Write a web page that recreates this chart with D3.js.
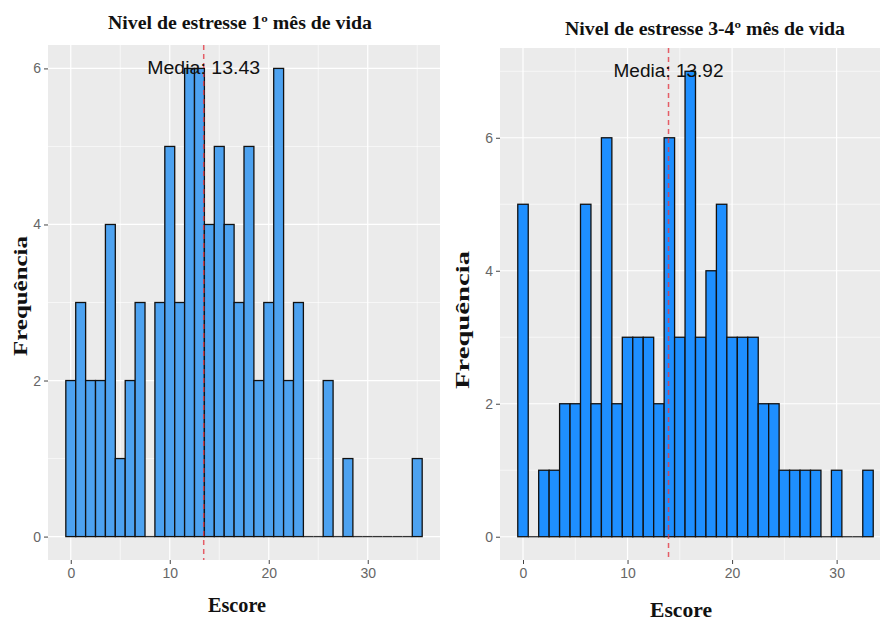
<!DOCTYPE html>
<html>
<head>
<meta charset="utf-8">
<script src="https://cdn.jsdelivr.net/npm/d3@7"></script>
<style>
  body { margin: 0; background: #fff; }
  svg { display: block; }
</style>
</head>
<body>
<svg id="chart" width="880" height="620"></svg>
<script>
// ---- Data ----
const binsLeft = d3.range(0, 36);        // bin centres, width 1
const countsLeft = [2,3,2,2,4,1,2,3,0,3,5,3,6,6,4,5,4,3,5,2,3,6,2,3,0,0,2,0,1,0,0,0,0,0,0,1];
const meanLeft = 13.43;
const titleLeft = "Nivel de estresse 1º mês de vida";

const binsRight = d3.range(0, 34);
const countsRight = [5,0,1,1,2,2,5,2,6,2,3,3,3,2,6,3,7,3,4,5,3,3,3,2,2,1,1,1,1,0,1,0,0,1];
const meanRight = 13.92;
const titleRight = "Nivel de estresse 3-4º mês de vida";

const xTicks = [0, 10, 20, 30];
const xMinorLeft = [5, 15, 25, 35];
const xMinorRight = [5, 15, 25];
const yTicksLeft = [0, 2, 4, 6];
const yMinorLeft = [1, 3, 5];
const yTicksRight = [0, 2, 4, 6];
const yMinorRight = [1, 3, 5, 7];

const xLabel = "Escore";
const yLabel = "Frequência";

const svg = d3.select("#chart");
const SERIF = "Liberation Serif, Times New Roman, serif";
const SANS = "Liberation Sans, Arial, sans-serif";

function panel(cfg) {
  const g = svg.append("g");
  const x = d3.scaleLinear().domain(cfg.xDomain).range(cfg.xRange);
  const y = d3.scaleLinear().domain(cfg.yDomain).range(cfg.yRange);
  const [x0, x1] = cfg.xRange;
  const [y0, y1] = cfg.yRange; // y0 bottom, y1 top

  const clipId = "clip" + cfg.id;
  svg.append("clipPath").attr("id", clipId)
    .append("rect").attr("x", x0).attr("y", y1).attr("width", x1 - x0).attr("height", y0 - y1);

  const pg = g.append("g").attr("clip-path", `url(#${clipId})`);
  pg.append("rect").attr("x", x0).attr("y", y1).attr("width", x1 - x0).attr("height", y0 - y1)
    .attr("fill", "#EBEBEB");

  // minor grid
  pg.selectAll(".gxm").data(cfg.xMinor).enter().append("line")
    .attr("x1", d => x(d)).attr("x2", d => x(d)).attr("y1", y1).attr("y2", y0)
    .attr("stroke", "#fff").attr("stroke-width", 0.6);
  pg.selectAll(".gym").data(cfg.yMinor).enter().append("line")
    .attr("x1", x0).attr("x2", x1).attr("y1", d => y(d)).attr("y2", d => y(d))
    .attr("stroke", "#fff").attr("stroke-width", 0.6);
  // major grid
  pg.selectAll(".gx").data(cfg.xTicks).enter().append("line")
    .attr("x1", d => x(d)).attr("x2", d => x(d)).attr("y1", y1).attr("y2", y0)
    .attr("stroke", "#fff").attr("stroke-width", 1.2);
  pg.selectAll(".gy").data(cfg.yTicks).enter().append("line")
    .attr("x1", x0).attr("x2", x1).attr("y1", d => y(d)).attr("y2", d => y(d))
    .attr("stroke", "#fff").attr("stroke-width", 1.2);

  const data = cfg.bins.map((b, i) => ({ b, c: cfg.counts[i] }));
  // zero-height bins: outline at baseline
  pg.selectAll(".zero").data(data.filter(d => d.c === 0)).enter().append("line")
    .attr("x1", d => x(d.b - 0.5)).attr("x2", d => x(d.b + 0.5))
    .attr("y1", y(0)).attr("y2", y(0))
    .attr("stroke", "#333").attr("stroke-width", 1.3);
  pg.selectAll(".bar").data(data.filter(d => d.c > 0)).enter().append("rect")
    .attr("x", d => x(d.b - 0.5)).attr("width", d => x(d.b + 0.5) - x(d.b - 0.5))
    .attr("y", d => y(d.c)).attr("height", d => y(0) - y(d.c))
    .attr("fill", cfg.fill).attr("stroke", "#111").attr("stroke-width", 1.3);

  // mean line
  pg.append("line")
    .attr("x1", x(cfg.mean)).attr("x2", x(cfg.mean)).attr("y1", y1).attr("y2", y0)
    .attr("stroke", "#E43A45").attr("stroke-opacity", 0.8)
    .attr("stroke-width", 1.5).attr("stroke-dasharray", "5,4");

  // mean label
  pg.append("text")
    .attr("x", x(cfg.mean)).attr("y", y(d3.max(cfg.counts)))
    .attr("text-anchor", "middle").attr("dominant-baseline", "central")
    .attr("font-family", SANS).attr("font-size", 18)
    .attr("textLength", cfg.meanLen).attr("lengthAdjust", "spacingAndGlyphs")
    .attr("fill", "#111")
    .text("Media: " + cfg.mean.toFixed(2));

  // axes
  const xAxis = d3.axisBottom(x).tickValues(cfg.xTicks).tickSize(4).tickPadding(4).tickFormat(d3.format("d"));
  const ax = g.append("g").attr("transform", `translate(0,${y0})`).call(xAxis);
  const yAxis = d3.axisLeft(y).tickValues(cfg.yTicks).tickSize(4).tickPadding(3).tickFormat(d3.format("d"));
  const ay = g.append("g").attr("transform", `translate(${x0},0)`).call(yAxis);
  [ax, ay].forEach(a => {
    a.select(".domain").remove();
    a.selectAll(".tick line").attr("stroke", "#444").attr("stroke-width", 1);
    a.selectAll(".tick text").attr("fill", "#666")
      .attr("font-family", SANS).attr("font-size", 14);
  });

  // titles
  g.append("text").attr("x", cfg.titleX).attr("y", cfg.titleY)
    .attr("text-anchor", "middle").attr("font-family", SERIF)
    .attr("font-weight", "bold").attr("font-size", 18).attr("fill", "#111")
    .attr("textLength", cfg.titleLen).attr("lengthAdjust", "spacingAndGlyphs")
    .text(cfg.title);
  g.append("text").attr("x", cfg.xLabX).attr("y", cfg.xLabY)
    .attr("text-anchor", "middle").attr("font-family", SERIF)
    .attr("font-weight", "bold").attr("font-size", 20).attr("fill", "#111")
    .attr("textLength", cfg.xLabLen).attr("lengthAdjust", "spacingAndGlyphs")
    .text(xLabel);
  g.append("text").attr("transform", `translate(${cfg.yLabX},${cfg.yLabY}) rotate(-90)`)
    .attr("text-anchor", "middle").attr("font-family", SERIF)
    .attr("font-weight", "bold").attr("font-size", 18).attr("fill", "#111")
    .attr("textLength", cfg.yLabLen).attr("lengthAdjust", "spacingAndGlyphs")
    .text(yLabel);
}

panel({
  id: "L", bins: binsLeft, counts: countsLeft, mean: meanLeft, title: titleLeft,
  xDomain: [-2.3, 37.3], xRange: [48, 440],
  yDomain: [-0.3, 6.3], yRange: [560, 45],
  xTicks: xTicks, xMinor: xMinorLeft, yTicks: yTicksLeft, yMinor: yMinorLeft,
  fill: "#4DA2F0",
  titleX: 240, titleY: 29, titleLen: 264,
  xLabX: 237, xLabY: 612, xLabLen: 58,
  yLabX: 27, yLabY: 296, yLabLen: 120,
  meanLen: 113
});

panel({
  id: "R", bins: binsRight, counts: countsRight, mean: meanRight, title: titleRight,
  xDomain: [-2.2, 35.2], xRange: [500, 891],
  yDomain: [-0.35, 7.35], yRange: [560, 48],
  xTicks: xTicks, xMinor: xMinorRight, yTicks: yTicksRight, yMinor: yMinorRight,
  fill: "#1E8FFF",
  titleX: 705, titleY: 35, titleLen: 280,
  xLabX: 681, xLabY: 617, xLabLen: 62,
  yLabX: 469, yLabY: 320, yLabLen: 138,
  meanLen: 110
});
</script>
</body>
</html>
